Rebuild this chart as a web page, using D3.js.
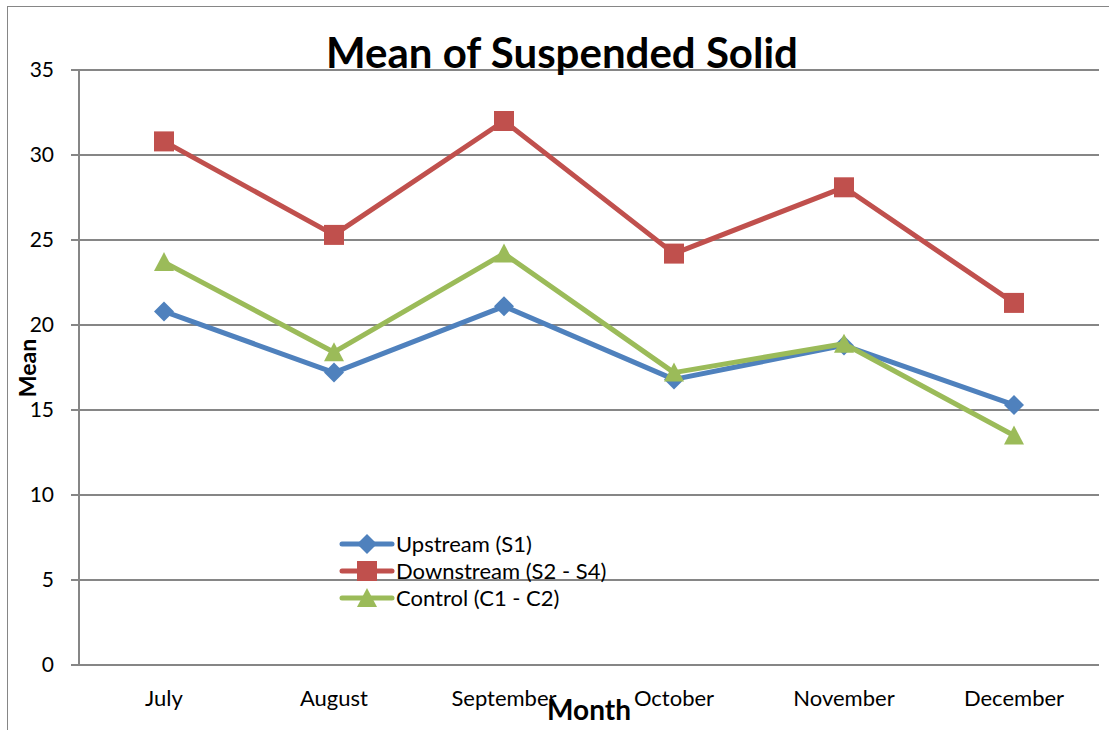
<!DOCTYPE html>
<html>
<head>
<meta charset="utf-8">
<script src="https://cdn.jsdelivr.net/npm/d3@7"></script>
<style>
  body { margin: 0; background: #fff; }
  svg { font-family: Lato, "Open Sans", sans-serif; }
</style>
</head>
<body>
<svg id="chart"></svg>
<script>
// data
const months = ["July", "August", "September", "October", "November", "December"];
const upstream = [20.8, 17.2, 21.1, 16.8, 18.8, 15.3];
const downstream = [30.8, 25.3, 32.0, 24.2, 28.1, 21.3];
const control = [23.7, 18.4, 24.2, 17.2, 18.9, 13.5];
const yTicks = [0, 5, 10, 15, 20, 25, 30, 35];

const series = [
  { name: "Upstream (S1)", values: upstream, color: "#4F81BD", shape: "diamond" },
  { name: "Downstream (S2 - S4)", values: downstream, color: "#C0504D", shape: "square" },
  { name: "Control (C1 - C2)", values: control, color: "#9BBB59", shape: "triangle" },
];

const W = 1109, H = 730;
const margin = { top: 70, right: 10, bottom: 65, left: 79 };
const width = 1099 - margin.left;
const height = 665 - margin.top;

const root = d3.select("#chart").attr("width", W).attr("height", H);

// outer chart border (cropped at right/bottom)
root.append("rect")
  .attr("x", 7.5).attr("y", 6.5)
  .attr("width", 1120).attr("height", 740)
  .attr("fill", "none").attr("stroke", "#868686").attr("stroke-width", 1);

const svg = root.append("g").attr("transform", `translate(${margin.left},${margin.top})`);

const x = d3.scaleBand().domain(months).range([0, width]);
const y = d3.scaleLinear().domain([0, 35]).range([height, 0]);
const cx = (m) => x(m) + x.bandwidth() / 2;

// gridlines
svg.append("g")
  .selectAll("line")
  .data(yTicks)
  .join("line")
  .attr("x1", -8).attr("x2", width)
  .attr("y1", (d) => y(d)).attr("y2", (d) => y(d))
  .attr("stroke", "#868686").attr("stroke-width", 2);

// y axis line
svg.append("line")
  .attr("x1", 0).attr("x2", 0).attr("y1", 0).attr("y2", height)
  .attr("stroke", "#868686").attr("stroke-width", 2);

// y tick labels
svg.append("g")
  .selectAll("text")
  .data(yTicks)
  .join("text")
  .attr("x", -25).attr("y", (d) => y(d))
  .attr("dy", "0.35em")
  .attr("text-anchor", "end")
  .attr("font-size", 21)
  .text((d) => d);

// x tick labels
svg.append("g")
  .selectAll("text")
  .data(months)
  .join("text")
  .attr("x", (d) => cx(d)).attr("y", height + 33)
  .attr("dy", "0.35em")
  .attr("text-anchor", "middle")
  .attr("font-size", 22)
  .text((d) => d);

function marker(sel, shape, color) {
  if (shape === "diamond") {
    sel.append("path").attr("d", "M0,-10L10,0L0,10L-10,0Z").attr("fill", color);
  } else if (shape === "square") {
    sel.append("rect").attr("x", -10).attr("y", -10).attr("width", 20).attr("height", 20).attr("fill", color);
  } else {
    sel.append("path").attr("d", "M0,-10L10,9L-10,9Z").attr("fill", color);
  }
}

const line = d3.line().x((d, i) => cx(months[i])).y((d) => y(d));

series.forEach((s) => {
  svg.append("path")
    .datum(s.values)
    .attr("d", line)
    .attr("fill", "none")
    .attr("stroke", s.color)
    .attr("stroke-width", 5)
    .attr("stroke-linejoin", "round");
  svg.append("g")
    .selectAll("g")
    .data(s.values)
    .join("g")
    .attr("transform", (d, i) => `translate(${cx(months[i])},${y(d)})`)
    .each(function () { marker(d3.select(this), s.shape, s.color); });
});

// legend
const legend = root.append("g").attr("transform", "translate(340,544)");
series.forEach((s, i) => {
  const g = legend.append("g").attr("transform", `translate(0,${i * 27})`);
  g.append("line").attr("x1", 2).attr("x2", 52).attr("y1", 0).attr("y2", 0)
    .attr("stroke", s.color).attr("stroke-width", 5).attr("stroke-linecap", "round");
  marker(g.append("g").attr("transform", "translate(27,0)"), s.shape, s.color);
  g.append("text").attr("x", 56).attr("y", 0).attr("dy", "0.35em")
    .attr("font-size", 22).text(s.name);
});

// title
root.append("text")
  .attr("x", 562).attr("y", 68)
  .attr("text-anchor", "middle")
  .attr("font-size", 42).attr("font-weight", "bold")
  .text("Mean of Suspended Solid");

// axis titles
root.append("text")
  .attr("transform", "translate(36,368) rotate(-90)")
  .attr("text-anchor", "middle")
  .attr("font-size", 23).attr("font-weight", "bold")
  .text("Mean");

root.append("text")
  .attr("x", 589).attr("y", 720)
  .attr("text-anchor", "middle")
  .attr("font-size", 28).attr("font-weight", "bold")
  .text("Month");
</script>
</body>
</html>
